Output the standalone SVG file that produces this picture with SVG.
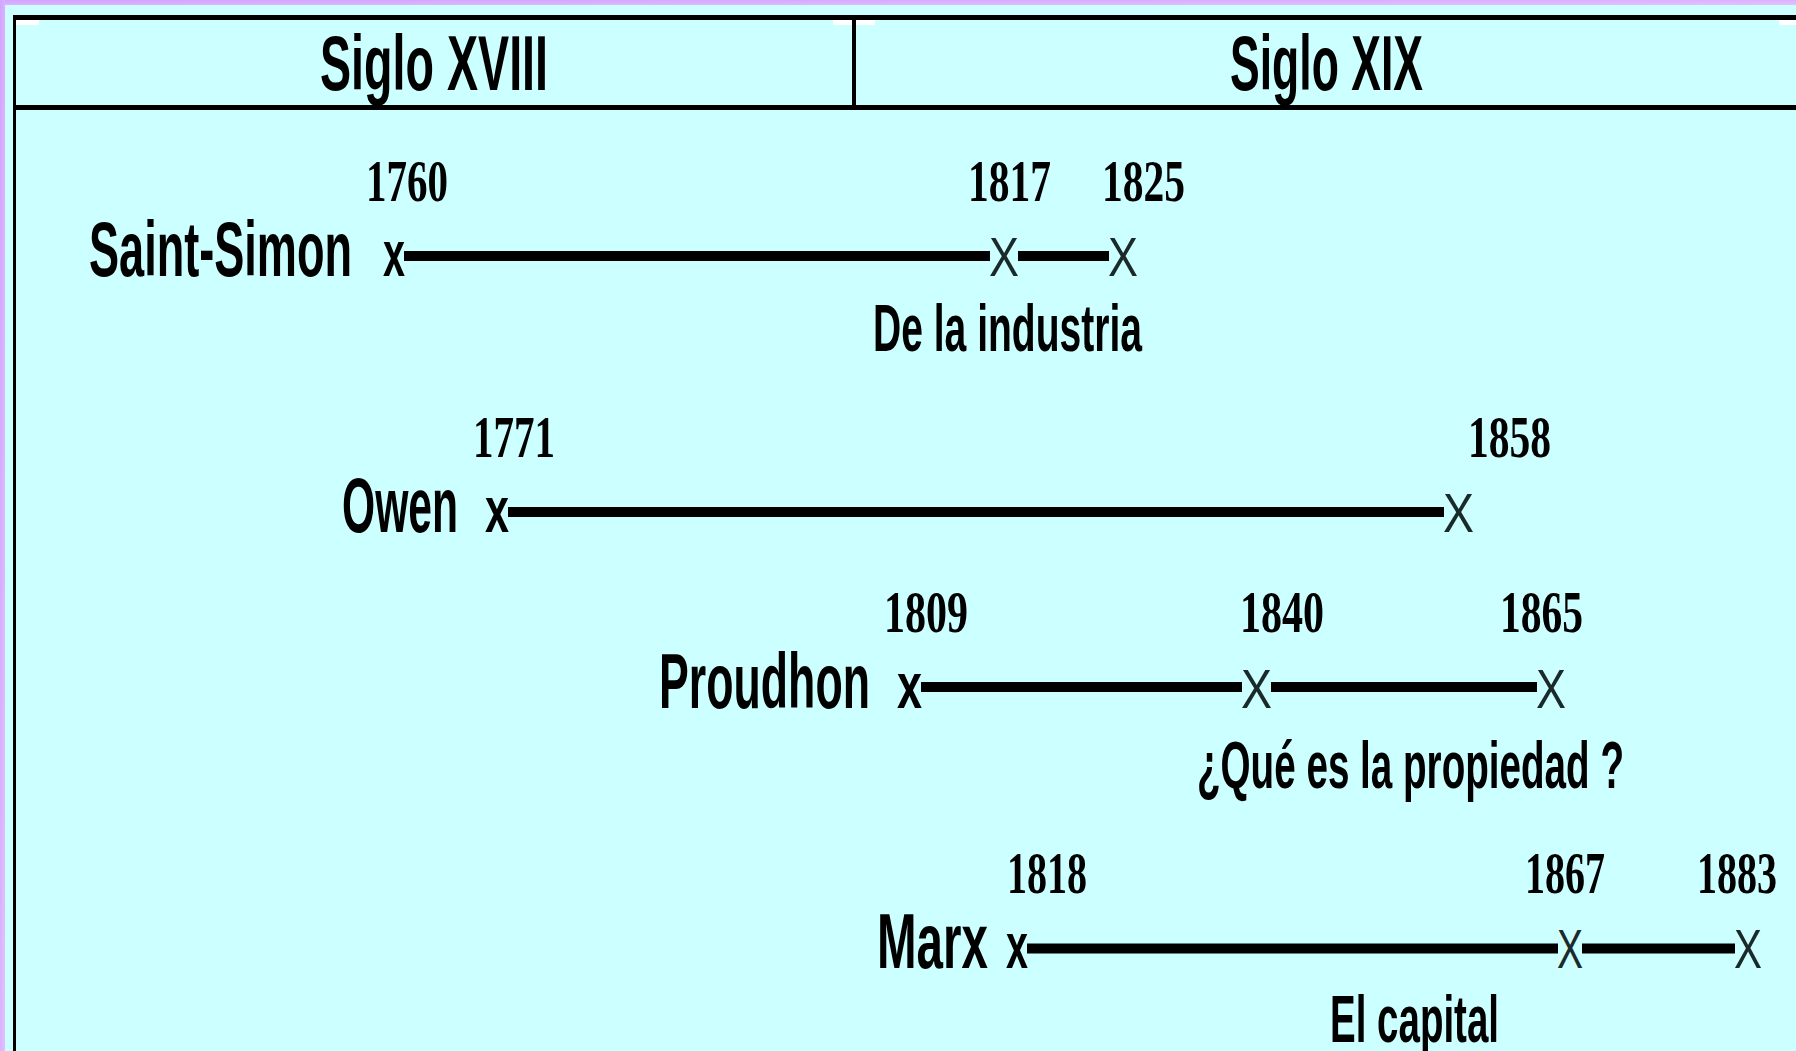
<svg xmlns="http://www.w3.org/2000/svg" width="1796" height="1051" viewBox="0 0 1796 1051">
  <defs>
    <linearGradient id="purple" x1="0" y1="0" x2="1" y2="1">
      <stop offset="0" stop-color="#D2A4FF"/>
      <stop offset="1" stop-color="#E2C0FF"/>
    </linearGradient>
    <style>
      .hdr { font-family: "Liberation Sans", Arial, sans-serif; font-weight: bold; font-size: 77px; fill: #000; }
      .name { font-family: "Liberation Sans", Arial, sans-serif; font-weight: bold; font-size: 77px; fill: #000; }
      .work { font-family: "Liberation Sans", Arial, sans-serif; font-weight: bold; font-size: 66px; fill: #000; }
      .year { font-family: "Liberation Serif", "Times New Roman", serif; font-weight: bold; font-size: 60px; fill: #000; }
      .xs { font-family: "Liberation Sans", Arial, sans-serif; font-weight: bold; font-size: 65px; fill: #000; }
      .xe { font-family: "Liberation Sans", Arial, sans-serif; font-weight: normal; font-size: 56px; fill: #1a2a2a; }
      .tl { stroke: #000; stroke-width: 10; fill: none; }
      .border { stroke: #000; fill: none; }
    </style>
  </defs>

  <!-- background -->
  <rect x="0" y="0" width="1796" height="1051" fill="#CCFFFF"/>
  <rect x="0" y="0" width="1796" height="5" fill="url(#purple)"/>
  <rect x="0" y="0" width="5" height="1051" fill="url(#purple)"/>

  <!-- table frame -->
  <g id="table">
    <line class="border" x1="13" y1="17.5" x2="1796" y2="17.5" stroke-width="5"/>
    <line class="border" x1="14.5" y1="15" x2="14.5" y2="1051" stroke-width="3"/>
    <line class="border" x1="13" y1="107.5" x2="1796" y2="107.5" stroke-width="5"/>
    <line class="border" x1="854" y1="15" x2="854" y2="110" stroke-width="4"/>
    <rect x="16" y="20" width="23" height="5" fill="#FFFFFF"/>
    <rect x="833" y="20" width="19" height="5" fill="#FFFFFF"/>
    <rect x="856" y="20" width="19" height="5" fill="#FFFFFF"/>
    <rect x="1779" y="20" width="17" height="5" fill="#FFFFFF"/>
  </g>

  <g id="header-xviii">
    <text class="hdr" x="320" y="90" textLength="228" lengthAdjust="spacingAndGlyphs">Siglo XVIII</text>
  </g>
  <g id="header-xix">
    <text class="hdr" x="1230" y="90" textLength="193" lengthAdjust="spacingAndGlyphs">Siglo XIX</text>
  </g>

  <!-- connectors: timeline segments -->
  <g id="connectors">
    <line class="tl" x1="404" y1="256" x2="990" y2="256"/>
    <line class="tl" x1="1018" y1="256" x2="1109" y2="256"/>
    <line class="tl" x1="508" y1="512" x2="1444" y2="512"/>
    <line class="tl" x1="921" y1="687" x2="1242" y2="687"/>
    <line class="tl" x1="1271" y1="687" x2="1537" y2="687"/>
    <line class="tl" x1="1027" y1="948.5" x2="1558" y2="948.5"/>
    <line class="tl" x1="1582" y1="948.5" x2="1735" y2="948.5"/>
  </g>

  <!-- Saint-Simon -->
  <g id="saint-simon">
    <text class="name" x="89" y="276" textLength="263" lengthAdjust="spacingAndGlyphs">Saint-Simon</text>
    <text class="xs" x="383" y="276" textLength="22" lengthAdjust="spacingAndGlyphs">x</text>
    <text class="xe" x="989" y="276" textLength="30" lengthAdjust="spacingAndGlyphs">X</text>
    <text class="xe" x="1108" y="276" textLength="30" lengthAdjust="spacingAndGlyphs">X</text>
    <text class="year" x="366" y="201" textLength="82" lengthAdjust="spacingAndGlyphs">1760</text>
    <text class="year" x="968" y="201" textLength="83" lengthAdjust="spacingAndGlyphs">1817</text>
    <text class="year" x="1102" y="201" textLength="83" lengthAdjust="spacingAndGlyphs">1825</text>
    <text class="work" x="873" y="351" textLength="269" lengthAdjust="spacingAndGlyphs">De la industria</text>
  </g>

  <!-- Owen -->
  <g id="owen">
    <text class="name" x="342" y="532" textLength="116" lengthAdjust="spacingAndGlyphs">Owen</text>
    <text class="xs" x="485" y="532" textLength="24" lengthAdjust="spacingAndGlyphs">x</text>
    <text class="xe" x="1443" y="532" textLength="31" lengthAdjust="spacingAndGlyphs">X</text>
    <text class="year" x="473" y="457" textLength="82" lengthAdjust="spacingAndGlyphs">1771</text>
    <text class="year" x="1468" y="457" textLength="83" lengthAdjust="spacingAndGlyphs">1858</text>
  </g>

  <!-- Proudhon -->
  <g id="proudhon">
    <text class="name" x="659" y="708" textLength="211" lengthAdjust="spacingAndGlyphs">Proudhon</text>
    <text class="xs" x="897" y="708" textLength="25" lengthAdjust="spacingAndGlyphs">x</text>
    <text class="xe" x="1241" y="708" textLength="31" lengthAdjust="spacingAndGlyphs">X</text>
    <text class="xe" x="1536" y="708" textLength="30" lengthAdjust="spacingAndGlyphs">X</text>
    <text class="year" x="884" y="632" textLength="84" lengthAdjust="spacingAndGlyphs">1809</text>
    <text class="year" x="1240" y="632" textLength="84" lengthAdjust="spacingAndGlyphs">1840</text>
    <text class="year" x="1500" y="632" textLength="83" lengthAdjust="spacingAndGlyphs">1865</text>
    <text class="work" x="1197" y="788" textLength="427" lengthAdjust="spacingAndGlyphs">¿Qué es la propiedad ?</text>
  </g>

  <!-- Marx -->
  <g id="marx">
    <text class="name" x="877" y="968" textLength="111" lengthAdjust="spacingAndGlyphs">Marx</text>
    <text class="xs" x="1006" y="968" textLength="22" lengthAdjust="spacingAndGlyphs">x</text>
    <text class="xe" x="1557" y="968" textLength="26" lengthAdjust="spacingAndGlyphs">X</text>
    <text class="xe" x="1734" y="968" textLength="28" lengthAdjust="spacingAndGlyphs">X</text>
    <text class="year" x="1007" y="893" textLength="80" lengthAdjust="spacingAndGlyphs">1818</text>
    <text class="year" x="1525" y="893" textLength="80" lengthAdjust="spacingAndGlyphs">1867</text>
    <text class="year" x="1697" y="893" textLength="80" lengthAdjust="spacingAndGlyphs">1883</text>
    <text class="work" x="1330" y="1042" textLength="169" lengthAdjust="spacingAndGlyphs">El capital</text>
  </g>
</svg>
